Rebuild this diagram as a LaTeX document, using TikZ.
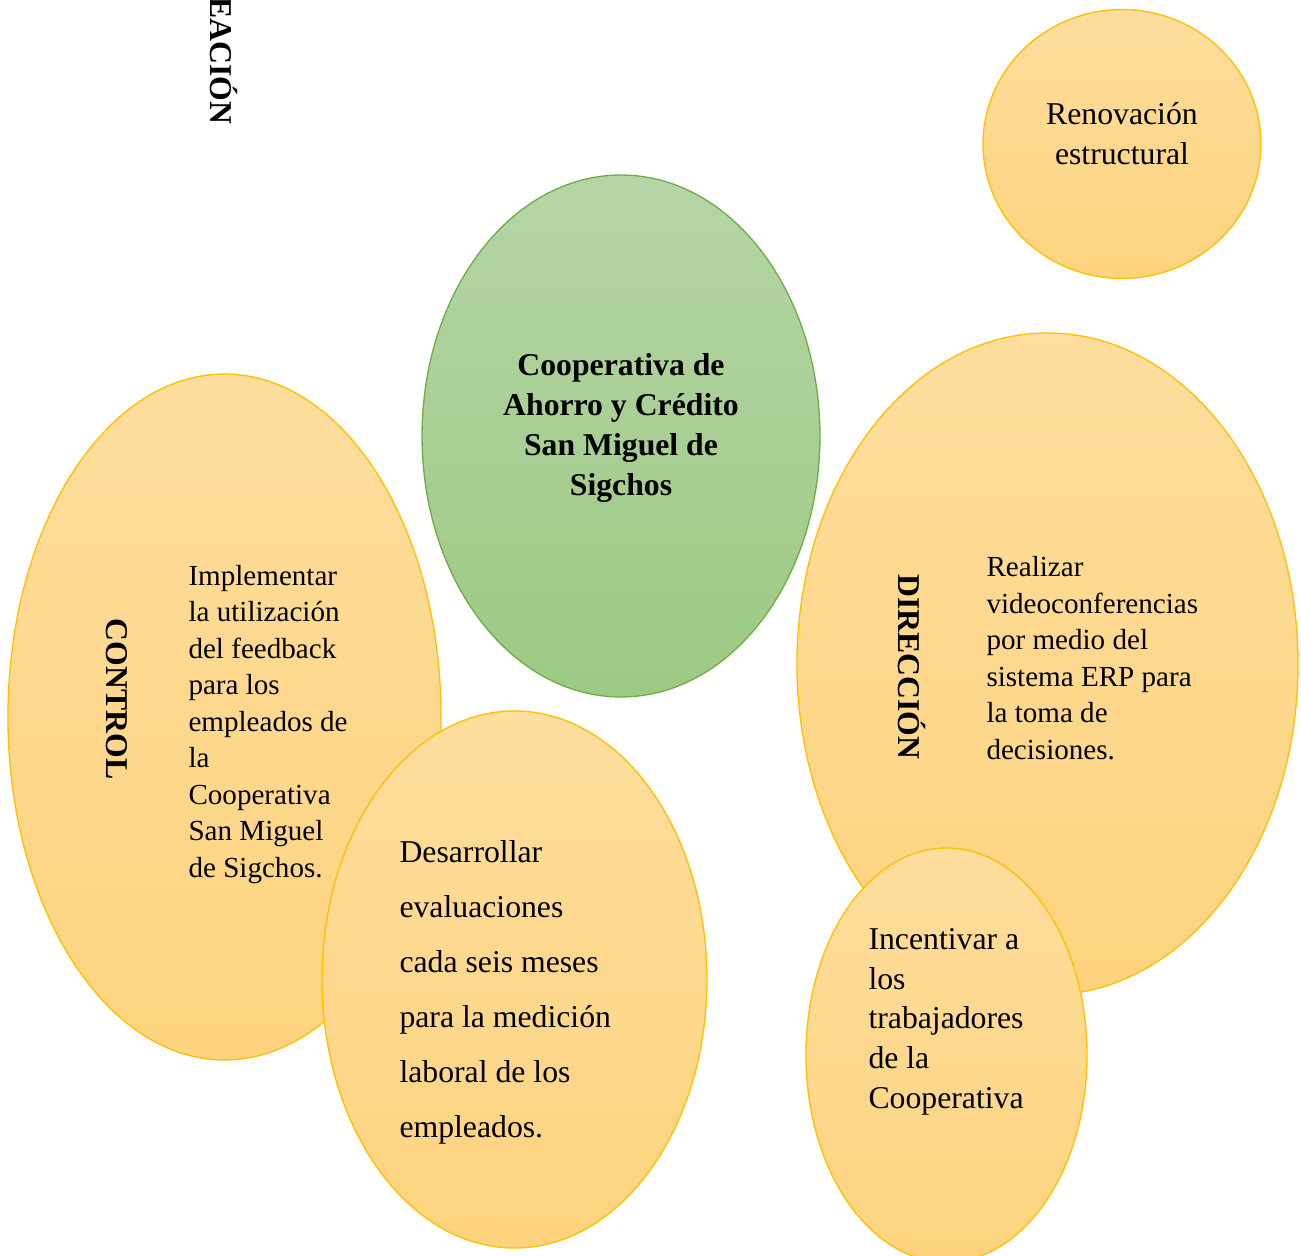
\documentclass[tikz,border=0pt]{standalone}
\usepackage{fontspec}
\setmainfont{Liberation Serif}
\usetikzlibrary{shapes.geometric}

\definecolor{goldline}{HTML}{FFC000}
\definecolor{goldtop}{HTML}{FEDD9D}
\definecolor{goldbot}{HTML}{FDD37E}
\definecolor{greenline}{HTML}{70AD47}
\definecolor{greentop}{HTML}{B5D5A6}
\definecolor{greenbot}{HTML}{9CC983}

\begin{document}
\begin{tikzpicture}[
        x = 0.3782pt, y = -0.3782pt, % one unit per pixel, y going down
        bubble/.style = {ellipse, draw=goldline, line width=0.5pt,
                         top color=goldtop, bottom color=goldbot},
        core/.style = {ellipse, draw=greenline, line width=0.5pt,
                       top color=greentop, bottom color=greenbot},
        side/.style = {font=\fontsize{12}{14}\selectfont\bfseries, rotate=-90, inner sep=0pt}, % vertical titles
        txt/.style = {align=left, inner sep=0pt, anchor=base west} % base = last line
        ]

  \useasboundingbox (0,0) rectangle (1301,1256);

  % bubbles, back to front
  \node[bubble, minimum width=105.1pt, minimum height=101.7pt] (renov) at (1122,144) {};
  \node[core, minimum width=150.5pt, minimum height=197.4pt] (coop) at (621,436) {};
  \node[bubble, minimum width=163.8pt, minimum height=259.4pt] (control) at (224.5,717) {};
  \node[bubble, minimum width=145.6pt, minimum height=203.1pt] (eval) at (514.5,979.5) {};
  \node[bubble, minimum width=189.5pt, minimum height=250.4pt] (direc) at (1047.5,664) {};
  \node[bubble, minimum width=106.3pt, minimum height=156.6pt] (incent) at (946.5,1055) {};

  % titles
  \node[side] (plan) at (224,61) {EACIÓN};
  \node[side] (controlt) at (117,699) {CONTROL};
  \node[side] (direct) at (912,667) {DIRECCIÓN};

  \node[align=center, inner sep=0pt, anchor=base, font=\fontsize{12}{15.1}\selectfont]
    (renovtxt) at (1122,164) {Renovación\\estructural};
  \node[align=center, inner sep=0pt, anchor=base, font=\fontsize{12}{15.1}\selectfont\bfseries]
    (cooptxt) at (621,495) {Cooperativa de\\Ahorro y Crédito\\San Miguel de\\Sigchos};

  % texts inside the bubbles
  \node[txt, font=\fontsize{11}{13.8}\selectfont] (controltxt) at (188,877)
    {Implementar\\la utilización\\del feedback\\para los\\empleados de\\la\\Cooperativa\\San Miguel\\de Sigchos.};
  \node[txt, font=\fontsize{12}{20.8}\selectfont] (evaltxt) at (399,1137)
    {Desarrollar\\evaluaciones\\cada seis meses\\para la medición\\laboral de los\\empleados.};
  \node[txt, font=\fontsize{11}{13.8}\selectfont] (directxt) at (986,759)
    {Realizar\\videoconferencias\\por medio del\\sistema ERP para\\la toma de\\decisiones.};
  \node[txt, font=\fontsize{12}{15}\selectfont] (incenttxt) at (868,1108)
    {Incentivar a\\los\\trabajadores\\de la\\Cooperativa};

\end{tikzpicture}
\end{document}
